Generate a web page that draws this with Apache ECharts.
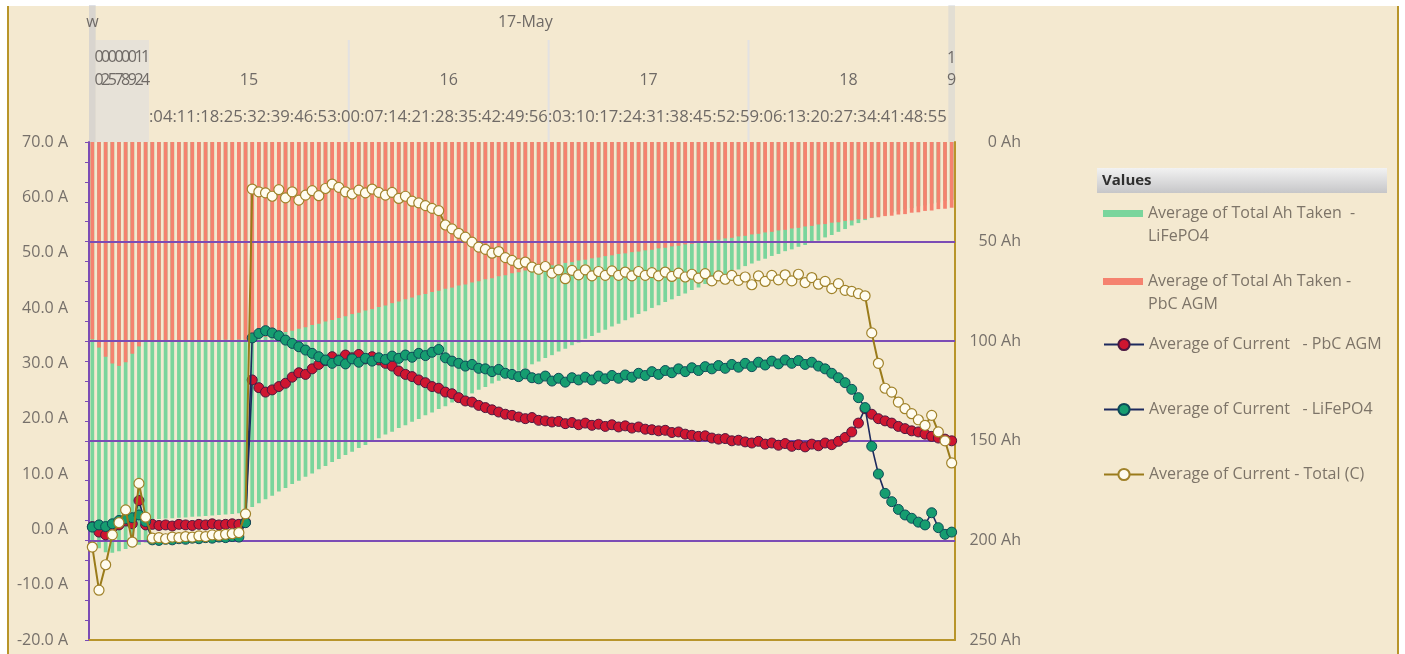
<!DOCTYPE html>
<html>
<head>
<meta charset="utf-8">
<script src="https://cdn.jsdelivr.net/npm/echarts@6/dist/echarts.min.js"></script>
<style>
  html, body { margin: 0; padding: 0; background: #ffffff; }
  #paper { position: absolute; left: 7px; top: 6px; width: 1388px; height: 660px;
           background: #f4e9d0; border-left: 2px solid #b8952a; border-right: 2px solid #b8952a; }
  #chart { position: absolute; left: 0; top: 0; width: 1405px; height: 654px; }
</style>
</head>
<body>
<div id="paper"></div>
<div id="chart"></div>
<script>
// ---- categories: a few sparse readings, then one reading every 2 minutes from 15:00 ----
const earlyTimes = ['16-May 23:52', '17-May 00:31', '17-May 02:18', '17-May 05:47', '17-May 07:09',
                    '17-May 08:26', '17-May 09:40', '17-May 12:15', '17-May 14:33'];
const sampleHours = [15, 16, 17, 18];
const endTime = '17-May 19:00';
const categories = earlyTimes.slice();
for (const h of sampleHours) {
  for (let m = 0; m < 60; m += 2) categories.push('17-May ' + h + ':' + String(m).padStart(2, '0'));
}
categories.push(endTime);

// minute row of the multi-level axis header
const minuteLabels = ['04','11','18','25','32','39','46','53','00','07','14','21','28','35','42','49','56',
                      '03','10','17','24','31','38','45','52','59','06','13','20','27','34','41','48','55'];
const dateLabels = ['w', '17-May'];

// right axis gridlines (Ah)
const ahGrid = [50, 100, 150, 200];

// ---- Average of Total Ah Taken - LiFePO4 (Ah) ----
const ahLiFePO4 = [
  200.5, 204.0, 206.0, 206.2, 205.5, 204.3, 203.4, 202.2, 201.0,
  189.4, 189.3, 189.0, 188.9, 188.6, 188.5, 188.1, 188.0, 187.7, 187.5, 187.2, 187.0, 186.7, 186.4, 185.2,
  183.2, 181.3, 179.3, 177.6, 175.5, 173.7, 171.7, 170.0, 168.0, 166.4,
  164.3, 162.7, 160.7, 159.1, 157.1, 155.5, 153.6, 152.1, 150.2, 148.7,
  146.8, 145.4, 143.6, 142.2, 140.4, 139.0, 137.2, 135.8, 134.0, 132.6,
  130.8, 129.4, 127.6, 126.2, 124.4, 123.0, 121.2, 119.8, 118.0, 116.6,
  114.8, 113.4, 111.6, 110.2, 108.4, 107.0, 105.2, 103.8, 102.0, 100.6,
  98.8, 97.4, 95.7, 94.3, 92.6, 91.2, 89.5, 88.1, 86.4, 85.0,
  83.3, 82.0, 80.3, 79.0, 77.3, 76.0, 74.3, 73.0, 71.3, 70.0,
  68.3, 67.0, 65.3, 64.0, 62.3, 61.0, 59.6, 58.6, 57.2, 56.2,
  54.8, 53.9, 52.6, 51.7, 50.4, 49.5, 47.9, 46.7, 45.1, 43.7,
  41.9, 40.7, 39.2, 38.2, 37.1, 36.4, 35.4, 34.8, 33.8, 33.2,
  32.3, 31.8, 30.9, 30.4, 29.5, 29.0
];

// ---- Average of Total Ah Taken - PbC AGM (Ah) ----
const ahPbC = [
  99.0, 103.2, 107.8, 111.2, 112.4, 110.6, 106.3, 102.6, 100.1,
  99.8, 99.7, 99.8, 99.6, 99.7, 99.5, 99.6, 99.4, 99.5, 99.4, 99.4, 99.3, 99.4, 99.2, 99.3,
  99.2, 98.3, 97.8, 96.9, 96.4, 95.4, 94.8, 93.7, 93.0, 91.9,
  91.2, 90.1, 89.4, 88.3, 87.5, 86.4, 85.7, 84.6, 83.9, 82.8,
  82.1, 80.9, 80.1, 78.9, 78.1, 76.9, 76.3, 75.3, 74.7, 73.7,
  73.1, 72.1, 71.5, 70.5, 69.9, 68.9, 68.4, 67.4, 66.9, 65.9,
  65.4, 64.5, 64.1, 63.2, 62.8, 61.9, 61.5, 60.7, 60.3, 59.5,
  59.1, 58.4, 58.0, 57.3, 56.9, 56.2, 55.9, 55.3, 55.0, 54.4,
  54.1, 53.4, 53.1, 52.4, 52.1, 51.4, 51.1, 50.4, 50.1, 49.4,
  49.1, 48.4, 48.1, 47.4, 47.1, 46.4, 46.1, 45.4, 45.1, 44.4,
  44.1, 43.4, 43.1, 42.4, 42.1, 41.4, 41.2, 40.5, 40.3, 39.6,
  39.4, 38.8, 38.6, 38.0, 37.8, 37.2, 37.0, 36.4, 36.2, 35.5,
  35.3, 34.6, 34.4, 33.7, 33.5, 33.0
];

// ---- Average of Current - PbC AGM (A) ----
const currentPbC = [
  0.5, -0.5, -1.0, 0.3, 0.8, 1.5, 1.0, 5.2, 0.8,
  0.9, 0.7, 0.8, 0.6, 0.9, 0.8, 0.7, 0.9, 0.8, 1.0, 0.8, 0.9, 1.0, 0.9, 1.3,
  27.0, 25.6, 24.8, 25.2, 25.8, 26.4, 27.5, 28.3, 28.0, 29.0,
  29.8, 30.5, 31.2, 30.6, 31.5, 31.0, 31.6, 30.8, 31.2, 30.6,
  30.0, 29.5, 28.6, 28.0, 27.6, 27.0, 26.5, 25.8, 25.5, 24.8,
  24.5, 23.8, 23.2, 23.0, 22.4, 22.0, 21.6, 21.2, 20.8, 20.6,
  20.3, 20.0, 20.2, 19.7, 19.6, 19.4, 19.5, 19.1, 19.3, 18.9,
  19.2, 18.8, 19.0, 18.6, 18.9, 18.5, 18.7, 18.3, 18.5, 18.1,
  18.0, 17.8, 17.9, 17.5, 17.6, 17.2, 17.0, 16.8, 16.9, 16.5,
  16.3, 16.4, 16.0, 16.1, 15.8, 15.6, 15.9, 15.4, 15.6, 15.2,
  15.5, 15.0, 15.3, 14.9, 15.4, 15.1, 15.6, 15.3, 15.9, 16.6,
  17.6, 19.2, 21.8, 20.8, 20.0, 19.6, 19.2, 18.6, 18.2, 17.8,
  17.6, 17.2, 16.8, 16.5, 16.3, 16.0
];

// ---- Average of Current - LiFePO4 (A) ----
const currentLiFePO4 = [
  0.4, 0.8, 0.5, 1.0, 1.6, 1.9, 2.1, 2.6, 1.4,
  -1.9, -2.0, -1.8, -1.9, -1.7, -1.8, -1.6, -1.7, -1.5, -1.6, -1.4, -1.5, -1.3, -1.4, 1.2,
  34.6, 35.4, 35.9, 35.5, 35.0, 34.2, 33.6, 33.0, 32.4, 31.8,
  31.2, 30.6, 30.0, 30.5, 29.9, 30.8, 30.2, 30.9, 30.4, 31.0,
  30.7, 31.3, 30.9, 31.5, 31.1, 31.8, 31.4, 32.0, 32.5, 31.0,
  30.4, 30.0, 29.5, 29.8, 29.1, 29.0, 28.5, 28.9, 28.2, 28.0,
  27.6, 28.1, 27.4, 27.2, 27.7, 26.8, 27.3, 26.6, 27.4, 27.0,
  27.5, 27.0, 27.7, 27.2, 27.8, 27.3, 27.9, 27.5, 28.2, 27.8,
  28.5, 28.0, 28.7, 28.3, 29.0, 28.5, 29.2, 28.7, 29.4, 29.0,
  29.6, 29.1, 29.8, 29.3, 30.0, 29.4, 30.2, 29.7, 30.4, 29.9,
  30.6, 30.0, 30.5, 29.8, 30.2, 29.5, 29.0, 28.2, 27.4, 26.5,
  25.3, 23.8, 22.0, 15.0, 10.0, 6.5, 5.0, 3.6, 2.6, 2.0,
  1.3, 0.8, 3.0, 0.3, -0.9, -0.5
];

// ---- Average of Current - Total (C) (A) ----
const currentTotal = [
  -3.2, -11.0, -6.4, -1.0, 1.2, 3.5, -2.3, 8.3, 2.2,
  -1.6, -1.5, -1.7, -1.4, -1.5, -1.3, -1.4, -1.2, -1.3, -1.0, -1.1, -0.9, -0.8, -0.6, 2.8,
  61.5, 61.0, 60.8, 60.2, 61.4, 59.9, 61.0, 59.5, 60.4, 61.2,
  60.3, 61.6, 62.4, 61.8, 61.0, 60.6, 61.3, 60.8, 61.5, 60.9,
  60.4, 60.9, 59.8, 60.2, 59.3, 59.0, 58.5, 58.0, 57.6, 55.0,
  54.3, 53.5, 52.8, 51.9, 51.0, 50.6, 49.9, 50.2, 49.1, 48.6,
  48.0, 48.3, 47.4, 47.0, 47.5, 46.3, 46.9, 45.3, 46.8, 46.0,
  46.9, 45.8, 46.6, 45.9, 46.7, 45.9, 46.5, 45.8, 46.6, 45.9,
  46.4, 45.8, 46.5, 45.7, 46.3, 45.6, 46.1, 45.4, 46.2, 44.9,
  45.8, 45.2, 45.9, 45.0, 45.6, 44.2, 45.8, 44.8, 45.9, 45.1,
  46.0, 44.9, 46.1, 44.6, 45.5, 44.3, 44.8, 43.5, 44.4, 43.2,
  43.0, 42.6, 42.2, 35.5, 30.0, 25.5, 24.8, 23.0, 21.8, 20.9,
  19.8, 18.8, 20.6, 17.6, 16.0, 12.0
];

const names = {
  ahLi: 'Average of Total Ah Taken  - LiFePO4',
  ahPb: 'Average of Total Ah Taken - PbC AGM',
  curPb: 'Average of Current   - PbC AGM',
  curLi: 'Average of Current   - LiFePO4',
  curTot: 'Average of Current - Total (C)'
};

const FONT = "'Open Sans', 'DejaVu Sans', sans-serif";
const LABEL_GREY = '#76706a';
const PURPLE = '#7b4cb5';
const GOLD = '#b8952a';

const legendBase = {
  orient: 'vertical', left: 1103, padding: 0, itemGap: 0, itemWidth: 40,
  textStyle: { color: '#7d7468', fontSize: 16, fontFamily: FONT, lineHeight: 23 }
};
// two-line legend entries: an empty first line keeps the icon level with the first text line
const splitTwo = n => '\n' + n.replace(/ (LiFePO4|PbC AGM)$/, '\n$1');

const chart = echarts.init(document.getElementById('chart'), null, { renderer: 'canvas' });

const option = {
  animation: false,
  grid: { left: 89, right: 450, top: 142, bottom: 14 },
  xAxis: [{
    type: 'category', data: categories, boundaryGap: true,
    axisLine: { show: true, onZero: false, lineStyle: { color: GOLD, width: 2 } },
    axisTick: { show: false }, axisLabel: { show: false }, splitLine: { show: false }
  }],
  yAxis: [
    {
      type: 'value', position: 'left', min: -20, max: 70, interval: 10,
      axisLine: { show: true, lineStyle: { color: PURPLE, width: 2 } },
      axisTick: { show: false }, splitLine: { show: false },
      axisLabel: { formatter: v => v.toFixed(1) + ' A', color: LABEL_GREY, fontSize: 16, fontFamily: FONT, margin: 21 }
    },
    {
      type: 'value', position: 'right', min: 0, max: 250, interval: 50, inverse: true,
      axisLine: { show: true, lineStyle: { color: GOLD, width: 2 } },
      axisTick: { show: false }, splitLine: { show: false },
      axisLabel: { formatter: '{value} Ah', align: 'right', margin: 66, color: LABEL_GREY, fontSize: 16, fontFamily: FONT }
    },
    {
      // minor tick marks along the left axis line
      type: 'value', position: 'left', min: 0, max: 250, interval: 10, inverse: true,
      axisLine: { show: false }, splitLine: { show: false }, axisLabel: { show: false },
      axisTick: { show: true, length: 4, lineStyle: { color: PURPLE, width: 1 } }
    }
  ],
  legend: [
    Object.assign({}, legendBase, { data: [names.ahLi], top: 179, itemHeight: 7, icon: 'rect', formatter: splitTwo }),
    Object.assign({}, legendBase, { data: [names.ahPb], top: 247, itemHeight: 7, icon: 'rect', formatter: splitTwo }),
    Object.assign({}, legendBase, { data: [names.curPb], top: 333, itemHeight: 14 }),
    Object.assign({}, legendBase, { data: [names.curLi], top: 398, itemHeight: 14 }),
    Object.assign({}, legendBase, { data: [names.curTot], top: 463, itemHeight: 14 })
  ],
  series: [
    {
      name: names.ahLi, type: 'bar', yAxisIndex: 1, data: ahLiFePO4, z: 1,
      barWidth: '56%', barGap: '-100%', itemStyle: { color: '#7ad59c' }
    },
    {
      name: names.ahPb, type: 'bar', yAxisIndex: 1, data: ahPbC, z: 1,
      barWidth: '56%', barGap: '-100%', itemStyle: { color: '#f5826f' },
      markLine: {
        silent: true, symbol: ['none', 'none'], label: { show: false }, z: 3,
        lineStyle: { color: PURPLE, width: 2, type: 'solid' },
        emphasis: { disabled: true },
        data: ahGrid.map(v => ({ yAxis: v }))
      }
    },
    {
      name: names.curPb, type: 'line', yAxisIndex: 0, data: currentPbC, z: 10,
      symbol: 'circle', symbolSize: 10, showAllSymbol: true,
      lineStyle: { color: '#1d2a5e', width: 1.6 },
      itemStyle: { color: '#cf1630', borderColor: '#4a1840', borderWidth: 1 }
    },
    {
      name: names.curLi, type: 'line', yAxisIndex: 0, data: currentLiFePO4, z: 11,
      symbol: 'circle', symbolSize: 10, showAllSymbol: true,
      lineStyle: { color: '#1d2a5e', width: 1.6 },
      itemStyle: { color: '#169d70', borderColor: '#0d4a58', borderWidth: 1 }
    },
    {
      name: names.curTot, type: 'line', yAxisIndex: 0, data: currentTotal, z: 12,
      symbol: 'circle', symbolSize: 10, showAllSymbol: true,
      lineStyle: { color: '#9a7b1a', width: 2 },
      itemStyle: { color: '#fffcef', borderColor: '#a0822a', borderWidth: 1.2 }
    }
  ]
};
chart.setOption(option);

// ---- multi-level axis header, positioned from the category scale ----
const px = i => chart.convertToPixel({ xAxisIndex: 0 }, categories[i]);
const band = px(1) - px(0);
const nEarly = earlyTimes.length;
const last = categories.length - 1;
const headerText = { fill: '#6f6a66', fontSize: 16, fontFamily: FONT, align: 'center', verticalAlign: 'middle' };
const g = [];

// light header bands and hour separators
g.push({ type: 'rect', z: 0, shape: { x: px(0) - band / 2, y: 5, width: band, height: 137 },
         style: { fill: 'rgba(190,194,205,0.5)' } });
g.push({ type: 'rect', z: 0, shape: { x: px(1) - band / 2, y: 40, width: band * (nEarly - 1), height: 102 },
         style: { fill: 'rgba(214,218,226,0.45)' } });
g.push({ type: 'rect', z: 0, shape: { x: px(last) - band / 2, y: 5, width: band, height: 137 },
         style: { fill: 'rgba(205,208,216,0.45)' } });

// date row
g.push({ type: 'text', z: 2, style: Object.assign({}, headerText, { x: px(0), y: 22, text: dateLabels[0] }) });
g.push({ type: 'text', z: 2, style: Object.assign({}, headerText, { x: (px(1) + px(last)) / 2, y: 22, text: dateLabels[1] }) });

// early hour labels, wrapped one digit per line
for (let i = 1; i < nEarly; i++) {
  const hh = categories[i].slice(-5, -3);
  g.push({ type: 'text', z: 2, style: Object.assign({}, headerText, { x: px(i), y: 57, text: hh[0] }) });
  g.push({ type: 'text', z: 2, style: Object.assign({}, headerText, { x: px(i), y: 80, text: hh[1] }) });
}

// hour groups
const groups = {};
for (let i = nEarly; i < categories.length; i++) {
  const h = categories[i].slice(7).split(':')[0];
  (groups[h] = groups[h] || []).push(i);
}
Object.keys(groups).forEach(h => {
  const idx = groups[h];
  const a = idx[0], b = idx[idx.length - 1];
  const cx = (px(a) + px(b)) / 2;
  if (idx.length > 1) {
    g.push({ type: 'text', z: 2, style: Object.assign({}, headerText, { x: cx, y: 80, text: h }) });
    if (a > nEarly) {
      g.push({ type: 'rect', z: 0, shape: { x: px(a) - band / 2 - 1, y: 40, width: 2, height: 102 },
               style: { fill: 'rgba(222,224,230,0.8)' } });
    }
  } else {
    g.push({ type: 'text', z: 2, style: Object.assign({}, headerText, { x: cx, y: 58, text: h[0] }) });
    g.push({ type: 'text', z: 2, style: Object.assign({}, headerText, { x: cx, y: 80, text: h[1] }) });
  }
});

// minute row
g.push({ type: 'text', z: 2, style: Object.assign({}, headerText, {
  x: px(nEarly) - band / 2, y: 117, align: 'left', fontSize: 16.7, text: ':' + minuteLabels.join(':') }) });

// legend heading bar
g.push({ type: 'rect', z: 0, shape: { x: 1097, y: 168, width: 290, height: 25 },
         style: { fill: new echarts.graphic.LinearGradient(0, 0, 0, 1, [
           { offset: 0, color: '#f2f2f2' }, { offset: 1, color: '#c6c6c8' }]) } });
g.push({ type: 'text', z: 2, style: { x: 1102, y: 181, text: 'Values', fill: '#2f2f2f', fontSize: 15,
         fontWeight: 'bold', fontFamily: FONT, verticalAlign: 'middle' } });

chart.setOption({ graphic: g });
</script>
</body>
</html>
